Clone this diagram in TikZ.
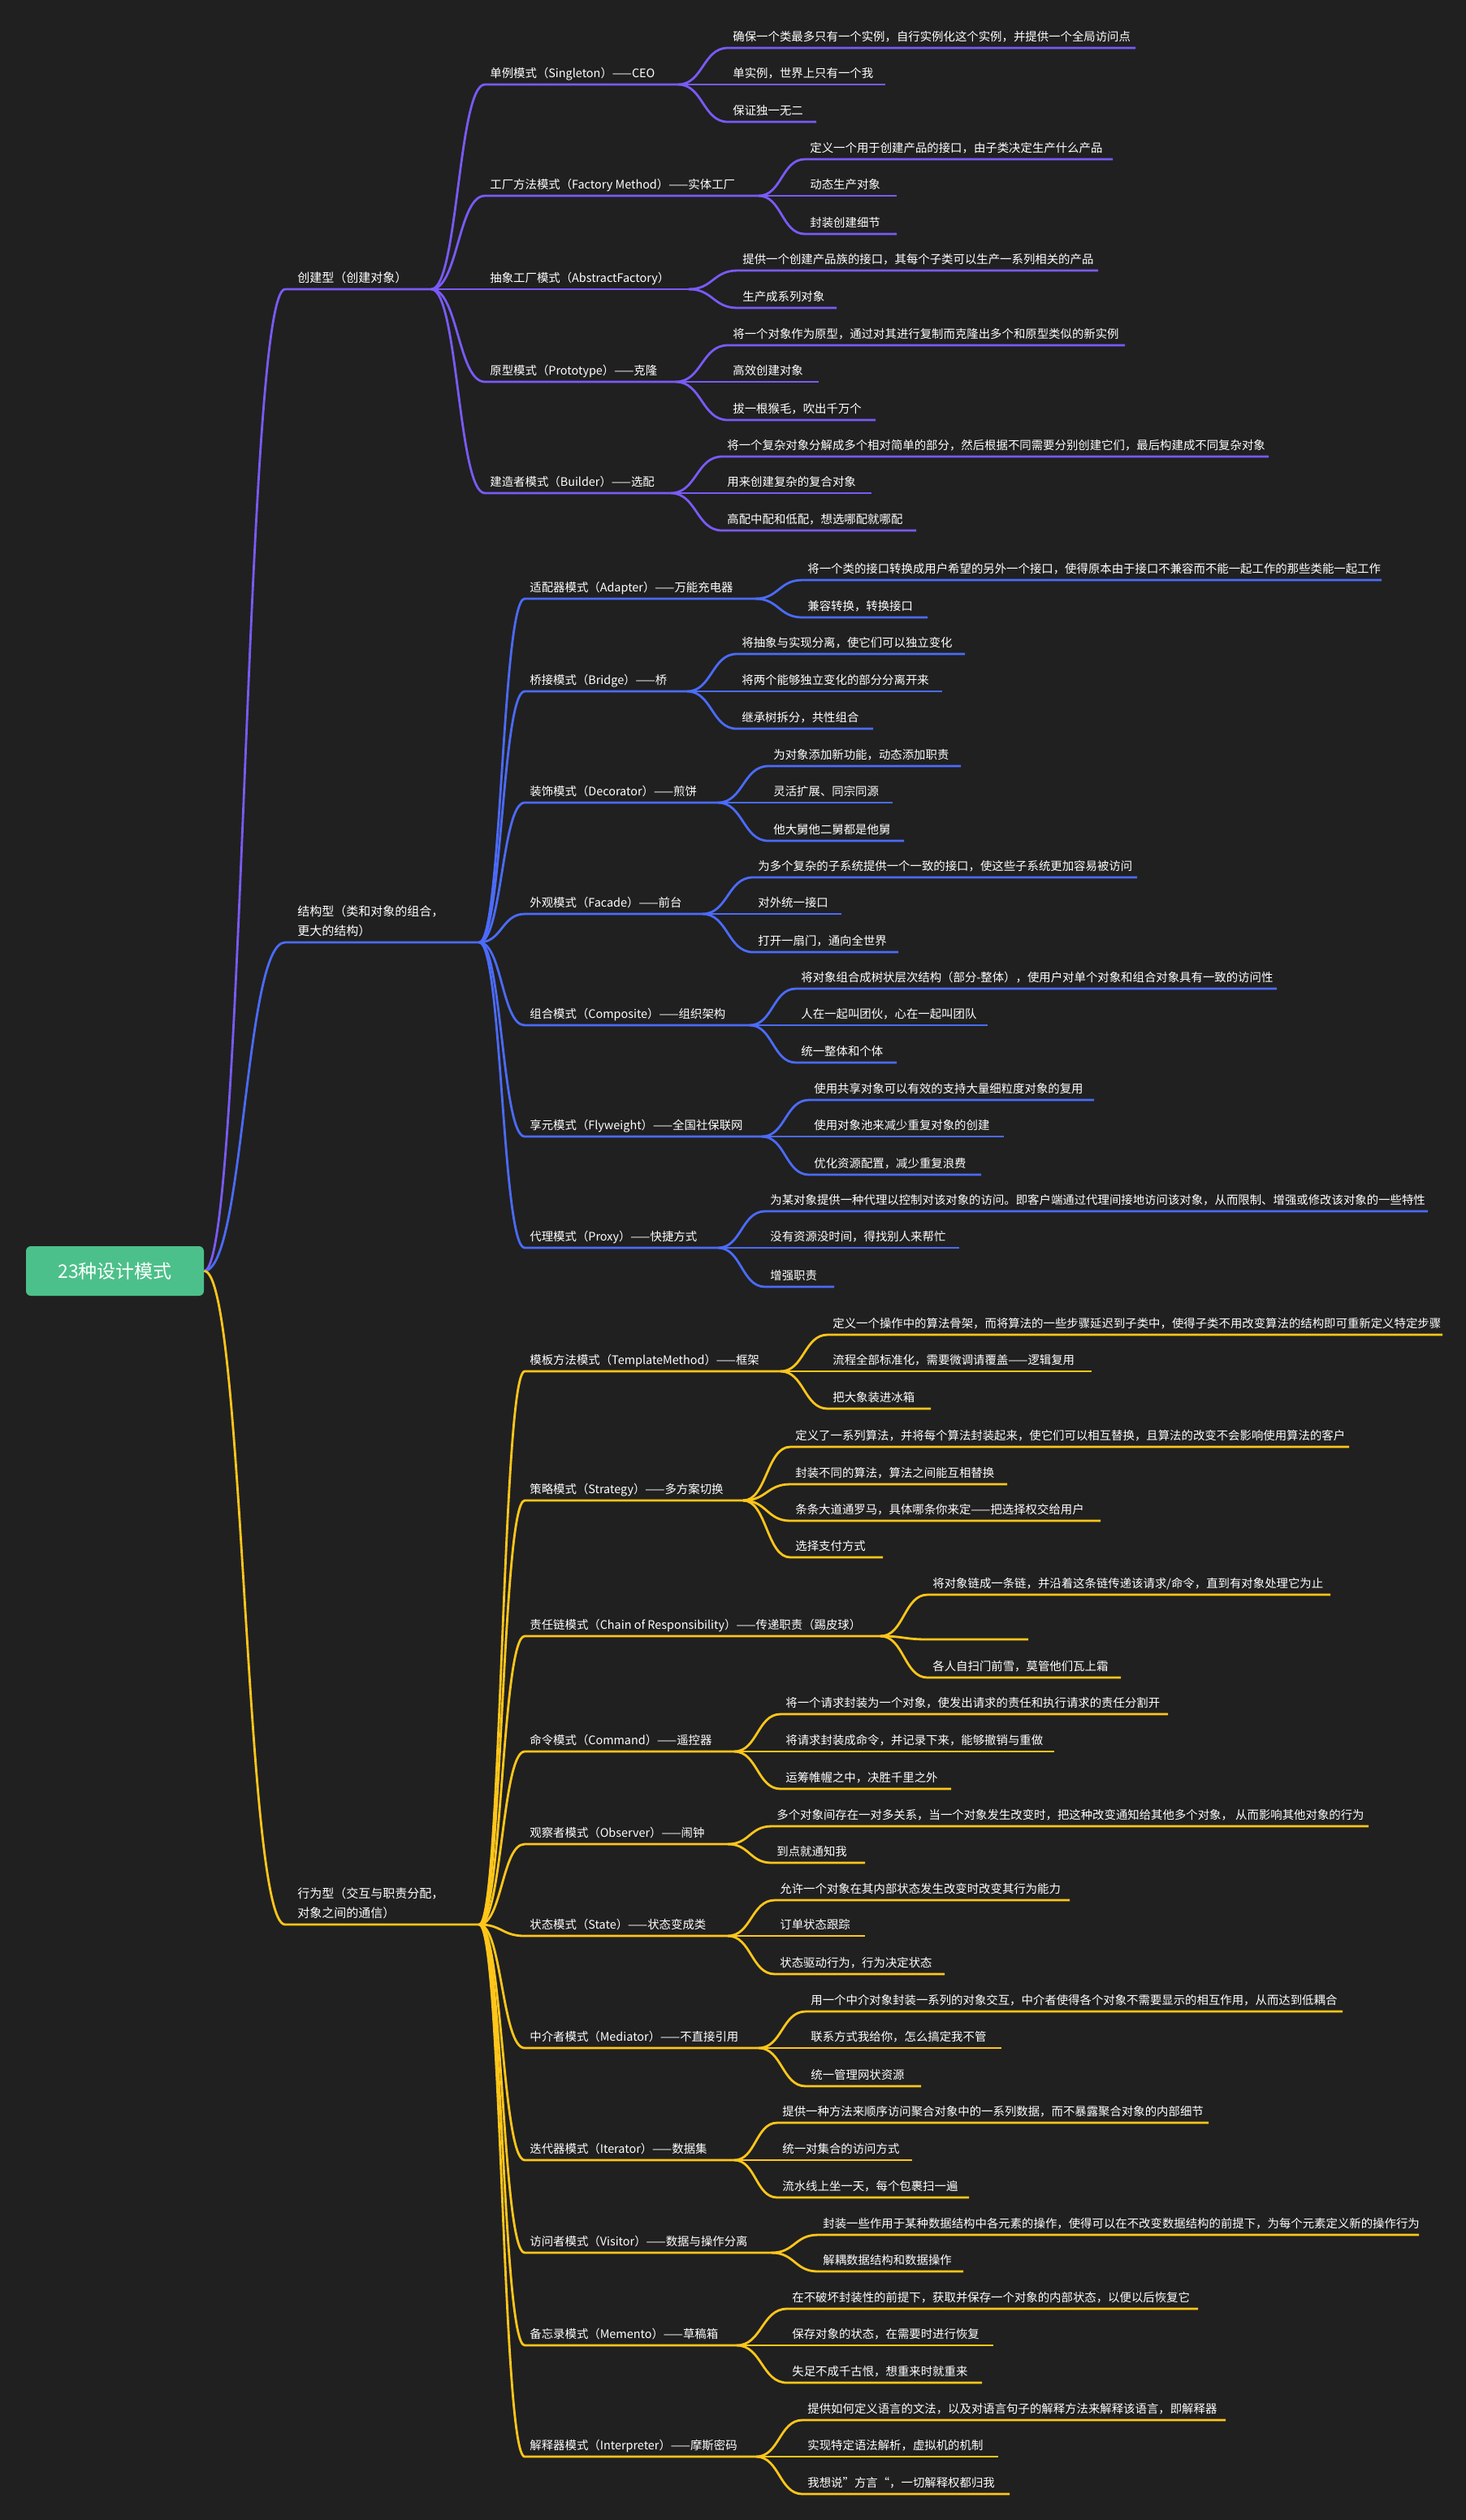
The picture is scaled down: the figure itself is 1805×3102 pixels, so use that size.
\documentclass[tikz,border=0pt]{standalone}
\usepackage{fontspec}
\setmainfont{Noto Sans CJK SC}
\definecolor{bg}{HTML}{202020}
\definecolor{cp}{HTML}{7A5AF8}
\definecolor{cb}{HTML}{4B6BFB}
\definecolor{cy}{HTML}{FFC61A}
\definecolor{rootg}{HTML}{4CC08A}
\newcommand\br[7]{%
  \draw[#1] (#2,#3) .. controls ({(#2+#4)/2},#3) and ({(#2+#4)/2},#5) .. (#4,#5) -- (#6,#5);
  \node[lbl,anchor=base west] at (#4+6,#5-9) {#7};}
\begin{document}
\begin{tikzpicture}[x=0.5pt,y=-0.5pt,
  lbl/.style={text=white,inner sep=0pt,font=\fontsize{7.2pt}{9pt}\selectfont},
  cat/.style={text=white,inner sep=0pt,font=\fontsize{7.5pt}{12pt}\selectfont,align=left},
  P/.style={draw=cp,line width=1.4pt},
  B/.style={draw=cb,line width=1.4pt},
  Y/.style={draw=cy,line width=1.4pt}]
\fill[bg] (0,0) rectangle (1805,3102);
\useasboundingbox (0,0) rectangle (1805,3102);
\node[fill=rootg,rounded corners=3pt,minimum width=109.5pt,minimum height=30.5pt,text=white,font=\fontsize{11.5pt}{13pt}\selectfont] (root) at (141.5,1564.5) {23种设计模式};
% categories
\draw[P] (root.east) .. controls (301,1564) and (301,356) .. (351,356) -- (531,356);
\node[cat,anchor=base west] (c1) at (366,347) {创建型（创建对象）};
\draw[B] (root.east) .. controls (301,1564) and (301,1160) .. (351,1160) -- (590,1160);
\node[cat,anchor=south west] (c2) at (366,1153) {结构型（类和对象的组合，\\更大的结构）};
\draw[Y] (root.east) .. controls (301,1564) and (301,2369) .. (351,2369) -- (590,2369);
\node[cat,anchor=south west] (c3) at (366,2362) {行为型（交互与职责分配，\\对象之间的通信）};
% creational
\br{P}{531}{356}{597}{104}{835}{单例模式（Singleton）——CEO}
\br{P}{835}{104}{896}{59}{1398}{确保一个类最多只有一个实例，自行实例化这个实例，并提供一个全局访问点}
\br{P}{835}{104}{896}{104}{1090}{单实例，世界上只有一个我}
\br{P}{835}{104}{896}{150}{1005}{保证独一无二}
\br{P}{531}{356}{597}{241}{934}{工厂方法模式（Factory Method）——实体工厂}
\br{P}{934}{241}{991}{196}{1370}{定义一个用于创建产品的接口，由子类决定生产什么产品}
\br{P}{934}{241}{991}{241}{1104}{动态生产对象}
\br{P}{934}{241}{991}{288}{1104}{封装创建细节}
\br{P}{531}{356}{597}{356}{848}{抽象工厂模式（AbstractFactory）}
\br{P}{848}{356}{908}{333}{1352}{提供一个创建产品族的接口，其每个子类可以生产一系列相关的产品}
\br{P}{848}{356}{908}{379}{1030}{生产成系列对象}
\br{P}{531}{356}{597}{470}{832}{原型模式（Prototype）——克隆}
\br{P}{832}{470}{896}{425}{1385}{将一个对象作为原型，通过对其进行复制而克隆出多个和原型类似的新实例}
\br{P}{832}{470}{896}{470}{1008}{高效创建对象}
\br{P}{832}{470}{896}{517}{1078}{拔一根猴毛，吹出千万个}
\br{P}{531}{356}{597}{607}{826}{建造者模式（Builder）——选配}
\br{P}{826}{607}{889}{562}{1562}{将一个复杂对象分解成多个相对简单的部分，然后根据不同需要分别创建它们，最后构建成不同复杂对象}
\br{P}{826}{607}{889}{607}{1073}{用来创建复杂的复合对象}
\br{P}{826}{607}{889}{653}{1128}{高配中配和低配，想选哪配就哪配}
% structural
\br{B}{590}{1160}{646}{737}{930}{适配器模式（Adapter）——万能充电器}
\br{B}{930}{737}{988}{714}{1701}{将一个类的接口转换成用户希望的另外一个接口，使得原本由于接口不兼容而不能一起工作的那些类能一起工作}
\br{B}{930}{737}{988}{760}{1142}{兼容转换，转换接口}
\br{B}{590}{1160}{646}{851}{846}{桥接模式（Bridge）——桥}
\br{B}{846}{851}{907}{805}{1188}{将抽象与实现分离，使它们可以独立变化}
\br{B}{846}{851}{907}{851}{1160}{将两个能够独立变化的部分分离开来}
\br{B}{846}{851}{907}{897}{1075}{继承树拆分，共性组合}
\br{B}{590}{1160}{646}{988}{884}{装饰模式（Decorator）——煎饼}
\br{B}{884}{988}{946}{943}{1183}{为对象添加新功能，动态添加职责}
\br{B}{884}{988}{946}{988}{1099}{灵活扩展、同宗同源}
\br{B}{884}{988}{946}{1035}{1113}{他大舅他二舅都是他舅}
\br{B}{590}{1160}{646}{1125}{865}{外观模式（Facade）——前台}
\br{B}{865}{1125}{927}{1080}{1400}{为多个复杂的子系统提供一个一致的接口，使这些子系统更加容易被访问}
\br{B}{865}{1125}{927}{1125}{1036}{对外统一接口}
\br{B}{865}{1125}{927}{1172}{1106}{打开一扇门，通向全世界}
\br{B}{590}{1160}{646}{1262}{923}{组合模式（Composite）——组织架构}
\br{B}{923}{1262}{980}{1217}{1572}{将对象组合成树状层次结构（部分-整体），使用户对单个对象和组合对象具有一致的访问性}
\br{B}{923}{1262}{980}{1262}{1216}{人在一起叫团伙，心在一起叫团队}
\br{B}{923}{1262}{980}{1308}{1104}{统一整体和个体}
\br{B}{590}{1160}{646}{1399}{938}{享元模式（Flyweight）——全国社保联网}
\br{B}{938}{1399}{996}{1354}{1347}{使用共享对象可以有效的支持大量细粒度对象的复用}
\br{B}{938}{1399}{996}{1399}{1236}{使用对象池来减少重复对象的创建}
\br{B}{938}{1399}{996}{1446}{1208}{优化资源配置，减少重复浪费}
\br{B}{590}{1160}{646}{1536}{884}{代理模式（Proxy）——快捷方式}
\br{B}{884}{1536}{942}{1491}{1758}{为某对象提供一种代理以控制对该对象的访问。即客户端通过代理间接地访问该对象，从而限制、增强或修改该对象的一些特性}
\br{B}{884}{1536}{942}{1536}{1181}{没有资源没时间，得找别人来帮忙}
\br{B}{884}{1536}{942}{1584}{1027}{增强职责}
% behavioral
\br{Y}{590}{2369}{646}{1688}{961}{模板方法模式（TemplateMethod）——框架}
\br{Y}{961}{1688}{1019}{1643}{1776}{定义一个操作中的算法骨架，而将算法的一些步骤延迟到子类中，使得子类不用改变算法的结构即可重新定义特定步骤}
\br{Y}{961}{1688}{1019}{1688}{1344}{流程全部标准化，需要微调请覆盖——逻辑复用}
\br{Y}{961}{1688}{1019}{1734}{1146}{把大象装进冰箱}
\br{Y}{590}{2369}{646}{1847}{915}{策略模式（Strategy）——多方案切换}
\br{Y}{915}{1847}{973}{1781}{1661}{定义了一系列算法，并将每个算法封装起来，使它们可以相互替换，且算法的改变不会影响使用算法的客户}
\br{Y}{915}{1847}{973}{1827}{1240}{封装不同的算法，算法之间能互相替换}
\br{Y}{915}{1847}{973}{1872}{1355}{条条大道通罗马，具体哪条你来定——把选择权交给用户}
\br{Y}{915}{1847}{973}{1917}{1087}{选择支付方式}
\br{Y}{590}{2369}{646}{2014}{1084}{责任链模式（Chain of Responsibility）——传递职责（踢皮球）}
\br{Y}{1084}{2014}{1142}{1963}{1638}{将对象链成一条链，并沿着这条链传递该请求/命令，直到有对象处理它为止}
\br{Y}{1084}{2014}{1142}{2018}{1266}{}
\br{Y}{1084}{2014}{1142}{2065}{1380}{各人自扫门前雪，莫管他们瓦上霜}
\br{Y}{590}{2369}{646}{2156}{904}{命令模式（Command）——遥控器}
\br{Y}{904}{2156}{961}{2110}{1438}{将一个请求封装为一个对象，使发出请求的责任和执行请求的责任分割开}
\br{Y}{904}{2156}{961}{2156}{1298}{将请求封装成命令，并记录下来，能够撤销与重做}
\br{Y}{904}{2156}{961}{2202}{1171}{运筹帷幄之中，决胜千里之外}
\br{Y}{590}{2369}{646}{2270}{896}{观察者模式（Observer）——闹钟}
\br{Y}{896}{2270}{950}{2248}{1685}{多个对象间存在一对多关系，当一个对象发生改变时，把这种改变通知给其他多个对象， 从而影响其他对象的行为}
\br{Y}{896}{2270}{950}{2293}{1065}{到点就通知我}
\br{Y}{590}{2369}{646}{2383}{896}{状态模式（State）——状态变成类}
\br{Y}{896}{2383}{954}{2339}{1317}{允许一个对象在其内部状态发生改变时改变其行为能力}
\br{Y}{896}{2383}{954}{2383}{1065}{订单状态跟踪}
\br{Y}{896}{2383}{954}{2430}{1163}{状态驱动行为，行为决定状态}
\br{Y}{590}{2369}{646}{2521}{934}{中介者模式（Mediator）——不直接引用}
\br{Y}{934}{2521}{992}{2476}{1653}{用一个中介对象封装一系列的对象交互，中介者使得各个对象不需要显示的相互作用，从而达到低耦合}
\br{Y}{934}{2521}{992}{2521}{1233}{联系方式我给你，怎么搞定我不管}
\br{Y}{934}{2521}{992}{2568}{1134}{统一管理网状资源}
\br{Y}{590}{2369}{646}{2659}{904}{迭代器模式（Iterator）——数据集}
\br{Y}{904}{2659}{957}{2613}{1488}{提供一种方法来顺序访问聚合对象中的一系列数据，而不暴露聚合对象的内部细节}
\br{Y}{904}{2659}{957}{2659}{1123}{统一对集合的访问方式}
\br{Y}{904}{2659}{957}{2705}{1193}{流水线上坐一天，每个包裹扫一遍}
\br{Y}{590}{2369}{646}{2773}{950}{访问者模式（Visitor）——数据与操作分离}
\br{Y}{950}{2773}{1007}{2751}{1747}{封装一些作用于某种数据结构中各元素的操作，使得可以在不改变数据结构的前提下，为每个元素定义新的操作行为}
\br{Y}{950}{2773}{1007}{2796}{1186}{解耦数据结构和数据操作}
\br{Y}{590}{2369}{646}{2887}{907}{备忘录模式（Memento）——草稿箱}
\br{Y}{907}{2887}{969}{2842}{1475}{在不破坏封装性的前提下，获取并保存一个对象的内部状态，以便以后恢复它}
\br{Y}{907}{2887}{969}{2887}{1223}{保存对象的状态，在需要时进行恢复}
\br{Y}{907}{2887}{969}{2933}{1209}{失足不成千古恨，想重来时就重来}
\br{Y}{590}{2369}{646}{3024}{931}{解释器模式（Interpreter）——摩斯密码}
\br{Y}{931}{3024}{988}{2979}{1509}{提供如何定义语言的文法，以及对语言句子的解释方法来解释该语言，即解释器}
\br{Y}{931}{3024}{988}{3024}{1229}{实现特定语法解析，虚拟机的机制}
\br{Y}{931}{3024}{988}{3070}{1243}{我想说”方言“，一切解释权都归我}
\end{tikzpicture}
\end{document}
